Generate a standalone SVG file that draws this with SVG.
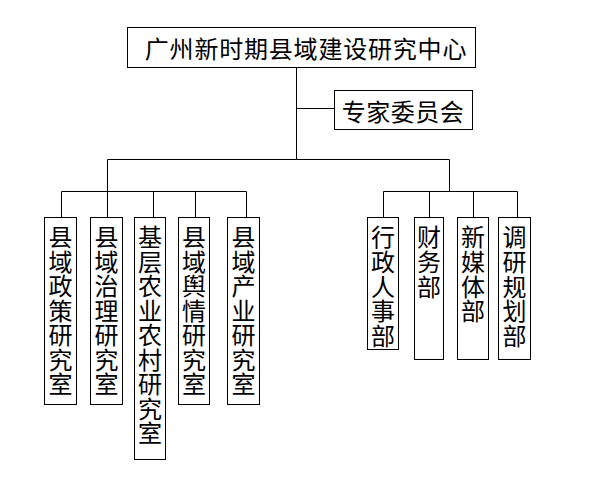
<svg xmlns="http://www.w3.org/2000/svg" width="595" height="479" viewBox="0 0 595 479">
<style>
.b{fill:#fff;stroke:#000;stroke-width:1}
.l{fill:none;stroke:#000;stroke-width:1}
.t{font-family:"Noto Sans CJK SC","Noto Sans CJK JP",sans-serif;font-size:24px;fill:#000;text-anchor:middle;dominant-baseline:central}
.v{font-family:"Noto Sans CJK SC","Noto Sans CJK JP",sans-serif;font-size:24px;fill:#000;writing-mode:vertical-rl;text-anchor:start;letter-spacing:0.5px}
.w{letter-spacing:0.75px}
</style>
<rect width="595" height="479" fill="#fff"/>
<g id="connectors">
<path class="l" d="M296.5 67.5V159.5M296.5 108.5H334.5M296.5 159.5H107.5V191.5M61.5 191.5H246.5M61.5 191.5V217.5M107.5 191.5V217.5M153.5 191.5V217.5M195.5 191.5V217.5M246.5 191.5V217.5M296.5 159.5H449.5V191.5M383.5 191.5H517.5M383.5 191.5V217.5M429.5 191.5V217.5M473.5 191.5V217.5M517.5 191.5V217.5"/>
</g>
<g id="center">
<rect class="b" x="127.5" y="27.5" width="348" height="40"/>
<text class="t" x="306" y="47.5" letter-spacing="0.8">广州新时期县域建设研究中心</text>
</g>
<g id="experts">
<rect class="b" x="334.5" y="90.5" width="138" height="39"/>
<text class="t" x="403" y="110.5" letter-spacing="0.5">专家委员会</text>
</g>
<g id="n1">
<rect class="b" x="44.5" y="217.5" width="32" height="187"/>
<text class="v" x="60.5" y="225">县域政策研究室</text>
</g>
<g id="n2">
<rect class="b" x="90.5" y="217.5" width="32" height="187"/>
<text class="v" x="106.5" y="225">县域治理研究室</text>
</g>
<g id="n3">
<rect class="b" x="134.5" y="217.5" width="31" height="242"/>
<text class="v" x="150" y="225">基层农业农村研究室</text>
</g>
<g id="n4">
<rect class="b" x="178.5" y="217.5" width="31" height="187"/>
<text class="v" x="194" y="225">县域舆情研究室</text>
</g>
<g id="n5">
<rect class="b" x="227.5" y="217.5" width="32" height="187"/>
<text class="v" x="243.5" y="225">县域产业研究室</text>
</g>
<g id="n6">
<rect class="b" x="367.5" y="217.5" width="31" height="132"/>
<text class="v w" x="383" y="225">行政人事部</text>
</g>
<g id="n7">
<rect class="b" x="414.5" y="217.5" width="29" height="142"/>
<text class="v w" x="429" y="225">财务部</text>
</g>
<g id="n8">
<rect class="b" x="457.5" y="217.5" width="31" height="142"/>
<text class="v w" x="473" y="225">新媒体部</text>
</g>
<g id="n9">
<rect class="b" x="498.5" y="217.5" width="32" height="142"/>
<text class="v w" x="514.5" y="225">调研规划部</text>
</g>
</svg>
